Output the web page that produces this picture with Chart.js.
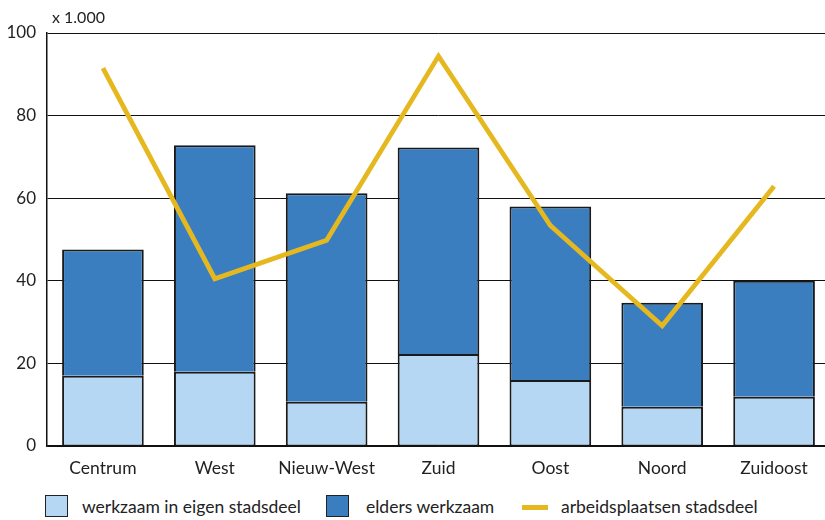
<!DOCTYPE html>
<html><head><meta charset="utf-8">
<script src="https://cdn.jsdelivr.net/npm/chart.js@4"></script>
<style>
html,body{margin:0;padding:0;background:#fff;overflow:hidden;width:825px;height:520px;}
#wrap{position:absolute;left:0;top:0;width:830px;height:485px;}
#unit{position:absolute;left:52px;top:7px;font:16px Lato,"Open Sans",sans-serif;color:#222;}
.lg{position:absolute;top:496px;height:22px;font:17.5px Lato,"Open Sans",sans-serif;color:#222;line-height:22px;}
.box{position:absolute;width:21px;height:20px;border:1.5px solid #222;}
.ln{position:absolute;width:26px;height:5px;background:#E6B820;top:9px;}
</style></head><body>
<div id="wrap"><canvas id="c" width="830" height="485"></canvas></div>
<div id="unit">x 1.000</div>
<div class="lg" style="left:45px"><div class="box" style="background:#B5D7F3;left:0;top:-1px"></div><span style="position:absolute;left:37px;white-space:nowrap">werkzaam in eigen stadsdeel</span></div>
<div class="lg" style="left:326px"><div class="box" style="background:#3A7EC0;left:0;top:-1px"></div><span style="position:absolute;left:40px;white-space:nowrap">elders werkzaam</span></div>
<div class="lg" style="left:522px"><div class="ln"></div><span style="position:absolute;left:39px;white-space:nowrap">arbeidsplaatsen stadsdeel</span></div>
<script>
const categories = ["Centrum","West","Nieuw-West","Zuid","Oost","Noord","Zuidoost"];
const eigenStadsdeel = [17.0, 18.0, 10.7, 22.3, 16.0, 9.5, 11.9];
const totaalWerkzaam = [47.6, 72.8, 61.2, 72.3, 58.0, 34.7, 40.0];
const eldersWerkzaam = totaalWerkzaam.map((t,i)=>+(t-eigenStadsdeel[i]).toFixed(1));
const arbeidsplaatsen = [91.5, 40.5, 49.8, 94.4, 53.4, 29.1, 62.9];
const yTicks = [0,20,40,60,80,100];

const font = "Lato, 'Open Sans', sans-serif";
new Chart(document.getElementById('c'), {
  type: 'bar',
  data: {
    labels: categories,
    datasets: [
      {type:'line', label:'arbeidsplaatsen stadsdeel', data: arbeidsplaatsen, borderColor:'#E6B820', borderWidth:4.8, pointRadius:0, tension:0, fill:false, stack:'line', order:0, borderJoinStyle:'miter', borderCapStyle:'butt'},
      {label:'werkzaam in eigen stadsdeel', data: eigenStadsdeel, backgroundColor:'#B5D7F3', borderColor:'#1a1a1a', borderWidth:{top:2,left:2,right:2,bottom:1}, borderSkipped:false, inflateAmount:0, stack:'a', order:1},
      {label:'elders werkzaam', data: eldersWerkzaam, backgroundColor:'#3A7EC0', borderColor:'#1a1a1a', borderWidth:{top:2,left:2,right:2,bottom:0}, borderSkipped:false, inflateAmount:0, stack:'a', order:1}
    ]
  },
  options: {
    responsive:false, animation:false,
    layout:{padding:{top:33, right:0, bottom:0, left:0}},
    plugins:{legend:{display:false}, tooltip:{enabled:false}},
    datasets:{bar:{categoryPercentage:1, barPercentage:0.73}},
    scales:{
      x:{stacked:true, grid:{display:false, drawTicks:false}, border:{display:true,color:'#111',width:1.5},
         ticks:{color:'#222', font:{family:font,size:17.5}, padding:12},
         afterFit:s=>{s.height=39;}},
      y:{stacked:true, min:0, max:100, afterBuildTicks:s=>{s.ticks=yTicks.map(v=>({value:v}));},
         grid:{color:'#111', lineWidth:1, drawTicks:false}, border:{display:true,color:'#111',width:1.5},
         ticks:{color:'#222', font:{family:font,size:17}, padding:11},
         afterFit:s=>{s.width=47;}}
    }
  }
});
</script>
</body></html>
